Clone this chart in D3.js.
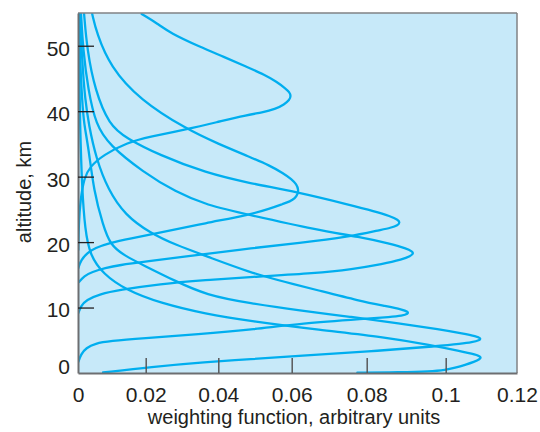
<!DOCTYPE html>
<html><head><meta charset="utf-8">
<script src="https://cdn.jsdelivr.net/npm/d3@7"></script>
<style>body{margin:0;background:#fff}</style>
</head><body><svg id="c" width="540" height="432"></svg>
<script>
// tick values / labels
const xTicks = [0, 0.02, 0.04, 0.06, 0.08, 0.1, 0.12];
const xTickLabels = ["0", "0.02", "0.04", "0.06", "0.08", "0.1", "0.12"];
const yTicks = [0, 10, 20, 30, 40, 50];
const xTitle = "weighting function, arbitrary units";
const yTitle = "altitude, km";

// weighting functions: [value, altitude km] (top to bottom)
const wfA = [[0.0188,54.85],[0.0232,53.40],[0.0267,51.95],[0.0350,49.81],[0.0415,48.30],[0.0478,46.75],[0.0525,45.60],[0.0560,44.46],[0.0582,43.50],[0.0594,42.90],[0.0598,42.32],[0.0594,41.70],[0.0580,41.05],[0.0555,40.30],[0.0520,39.80],[0.0477,39.42],[0.0395,38.30],[0.0313,37.23],[0.0212,36.10],[0.0144,35.19],[0.0075,33.31],[0.0035,31.52],[0.0018,29.79],[0.0007,26.43],[0.0002,22.61],[0.0001,18.79]];
const wfB = [[0.0042,54.85],[0.0055,51.95],[0.0095,46.80],[0.0183,41.71],[0.0313,37.23],[0.0400,35.00],[0.0486,33.00],[0.0540,31.70],[0.0577,30.51],[0.0600,29.60],[0.0613,28.80],[0.0618,28.00],[0.0616,27.30],[0.0609,26.70],[0.0595,26.20],[0.0577,25.85],[0.0540,25.10],[0.0486,24.19],[0.0366,22.92],[0.0237,21.39],[0.0154,20.55],[0.0092,19.86],[0.0050,19.10],[0.0027,18.33],[0.0009,17.27],[0.0001,16.04]];
const wfC = [[0.0018,54.85],[0.0027,49.35],[0.0050,43.24],[0.0092,37.90],[0.0142,35.90],[0.0237,33.31],[0.0366,30.56],[0.0486,28.98],[0.0614,27.65],[0.0755,25.67],[0.0820,24.70],[0.0860,23.95],[0.0880,23.40],[0.0884,23.00],[0.0879,22.55],[0.0862,22.20],[0.0830,21.80],[0.0755,20.83],[0.0620,19.85],[0.0486,19.05],[0.0366,18.18],[0.0189,16.96],[0.0124,16.50],[0.0080,16.04],[0.0041,15.43],[0.0018,14.82],[0.0003,13.90]];
const wfD = [[0.0009,54.85],[0.0015,49.35],[0.0030,43.24],[0.0053,37.90],[0.0092,34.84],[0.0192,30.71],[0.0283,27.65],[0.0366,25.67],[0.0486,24.14],[0.0667,21.85],[0.0782,20.78],[0.0860,19.75],[0.0900,19.05],[0.0916,18.55],[0.0918,18.25],[0.0911,17.85],[0.0890,17.35],[0.0842,16.65],[0.0760,15.85],[0.0667,15.25],[0.0486,14.67],[0.0366,14.21],[0.0238,13.60],[0.0121,12.68],[0.0065,12.07],[0.0024,11.15],[0.0009,10.24],[0.0001,9.17]];
const wfE = [[0.0006,54.85],[0.0012,47.82],[0.0021,41.71],[0.0032,37.90],[0.0053,32.86],[0.0089,27.96],[0.0139,24.14],[0.0212,21.39],[0.0283,19.56],[0.0366,17.88],[0.0486,15.36],[0.0582,13.90],[0.0667,12.68],[0.0782,11.00],[0.0850,10.20],[0.0890,9.70],[0.0905,9.35],[0.0905,9.05],[0.0890,8.75],[0.0859,8.55],[0.0801,8.30],[0.0622,7.56],[0.0502,6.70],[0.0344,5.90],[0.0188,5.30],[0.0095,4.89],[0.0050,4.51],[0.0024,3.82],[0.0009,2.90],[0.0001,1.68]];
const wfF = [[0.0003,54.85],[0.0006,47.82],[0.0012,41.71],[0.0018,37.90],[0.0030,34.84],[0.0047,27.65],[0.0074,22.61],[0.0095,19.56],[0.0139,17.88],[0.0192,16.50],[0.0281,14.06],[0.0366,11.92],[0.0486,10.65],[0.0622,9.55],[0.0755,8.60],[0.0884,7.56],[0.0986,6.65],[0.1050,6.00],[0.1085,5.60],[0.1099,5.30],[0.1095,5.00],[0.1075,4.70],[0.1040,4.45],[0.0990,4.15],[0.0800,3.25],[0.0622,2.67],[0.0486,2.09],[0.0366,1.68],[0.0213,0.92],[0.0074,0.08]];
const wfG = [[0.0002,54.85],[0.0003,47.82],[0.0006,37.90],[0.0012,27.96],[0.0021,21.85],[0.0035,18.03],[0.0074,15.13],[0.0142,12.68],[0.0239,10.70],[0.0366,9.01],[0.0486,7.94],[0.0675,6.57],[0.0842,5.50],[0.0960,4.28],[0.1040,3.35],[0.1085,2.80],[0.1100,2.45],[0.1096,2.10],[0.1080,1.70],[0.1055,1.25],[0.1026,0.80],[0.1000,0.45],[0.0960,0.22],[0.0884,0.10],[0.0775,0.05]];
const curves = [wfA, wfB, wfC, wfD, wfE, wfF, wfG];

const svg = d3.select("#c");
const x = d3.scaleLinear().domain(xTicks).range([78, 145.7, 218.3, 291.7, 366.7, 445.7, 517]);
const y = d3.scaleLinear().domain([0, 55]).range([373, 13]);
const font = "'Liberation Sans', Arial, sans-serif";
const ink = "#231f20";

// plot background
svg.append("rect").attr("x", x(0)).attr("y", y(55)).attr("width", x(0.12) - x(0)).attr("height", y(0) - y(55))
  .attr("fill", "#c7e9f9");

svg.append("defs").append("clipPath").attr("id", "clip").append("rect")
  .attr("x", x(0)).attr("y", y(55)).attr("width", x(0.12) - x(0)).attr("height", y(0) - y(55));

// curves
const line = d3.line().x(d => x(d[0])).y(d => y(d[1])).curve(d3.curveBasis);
svg.append("g").attr("clip-path", "url(#clip)").selectAll("path").data(curves).join("path")
  .attr("d", line).attr("fill", "none").attr("stroke", "#00aeef").attr("stroke-width", 2.3)
  .attr("stroke-linejoin", "round").attr("stroke-linecap", "round");

// frame
svg.append("line").attr("x1", x(0)).attr("x2", x(0.12)).attr("y1", y(55)).attr("y2", y(55)).attr("stroke", "#808285").attr("stroke-width", 1.5);
svg.append("line").attr("x1", x(0.12)).attr("x2", x(0.12)).attr("y1", y(55)).attr("y2", y(0)).attr("stroke", "#808285").attr("stroke-width", 1.5);

// axes
const xAxis = d3.axisBottom(x).tickValues(xTicks).tickSize(0).tickPadding(10).tickFormat((d, i) => xTickLabels[i]);
const gx = svg.append("g").attr("transform", `translate(0,${y(0)})`).call(xAxis);
gx.select(".domain").attr("stroke", "#6d6e71").attr("stroke-width", 2);
gx.selectAll("text").attr("font-family", font).attr("font-size", 21).attr("fill", ink).attr("dy", "0.9em");
gx.selectAll(".tick").filter(d => d > 0 && d < 0.12).append("line")
  .attr("y1", 0).attr("y2", -15).attr("stroke", "#58595b").attr("stroke-width", 1.5);

const yAxis = d3.axisLeft(y).tickValues(yTicks).tickSize(0).tickPadding(8);
const gy = svg.append("g").attr("transform", `translate(${x(0)},0)`).call(yAxis);
gy.select(".domain").attr("stroke", "#6d6e71").attr("stroke-width", 2);
gy.selectAll("text").attr("font-family", font).attr("font-size", 21).attr("fill", ink)
  .attr("dy", d => d === 0 ? "0.0em" : "0.45em");
gy.selectAll(".tick").filter(d => d > 0).append("line")
  .attr("x1", 0).attr("x2", 16).attr("stroke", ink).attr("stroke-width", 1.3);

// titles
svg.append("text").attr("x", 294).attr("y", 424).attr("text-anchor", "middle")
  .attr("font-family", font).attr("font-size", 20).attr("fill", ink).text(xTitle);
svg.append("text").attr("transform", "translate(31,192) rotate(-90)").attr("text-anchor", "middle")
  .attr("font-family", font).attr("font-size", 20).attr("fill", ink).text(yTitle);
</script></body></html>
